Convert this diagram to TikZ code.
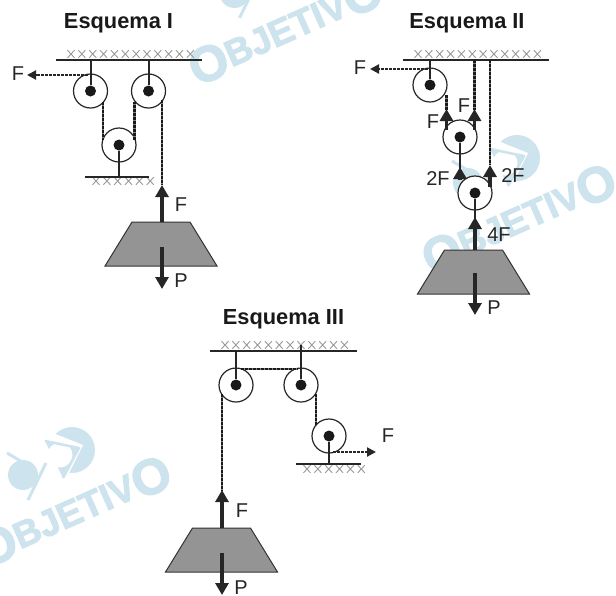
\documentclass[tikz,border=0pt]{standalone}
\usepackage{fontspec}
\setmainfont{Liberation Sans}
\newfontfamily\markfont{Liberation Sans}[BoldFeatures={FakeBold=2.5}]
\usetikzlibrary{arrows.meta}
\definecolor{markblue}{RGB}{205,227,237}
\tikzset{
    title/.style={font=\bfseries\fontsize{21.8}{24}\selectfont,text=black!90,inner sep=0pt},
    lab/.style={font=\fontsize{20}{24}\selectfont,text=black!85,inner sep=0pt},
    stamp/.style={font=\markfont\bfseries\fontsize{37}{38}\selectfont,text=markblue,rotate=24,inner sep=0pt},
    pulley/.style={circle,draw=black!85,fill=white,line width=1.2pt,minimum size=34pt,inner sep=0pt},
    axle/.style={circle,fill=black!90,minimum size=11pt,inner sep=0pt},
    support/.style={draw=black!85,line width=2pt},
    rod/.style={draw=black!85,line width=2pt},
    rope/.style={draw=black!50,line width=2.2pt,postaction={draw=black!90,line width=2.2pt,dash pattern=on 3pt off 1pt}},
    block/.style={draw=black!80,fill=black!42,line width=1pt},
    force/.style={line width=3.4pt,black!85,-{Triangle[length=12pt,width=13pt]}},
    pull/.style={line width=2pt,black!85,dash pattern=on 3pt off 1pt,-{Triangle[length=9pt,width=9pt]}}
}
\newcommand{\hatchrow}[3]{%
    \foreach \k in {1,...,#3}{
        \draw[black!40,line width=0.9pt] ({#1+(\k-1)*10.85-3.5},#2-3.8)--++(7,7.6) ({#1+(\k-1)*10.85-3.5},#2+3.8)--++(7,-7.6);
    }
}
\newcommand{\massblock}[3]{%
    \draw[block] (#2-29,#3)--(#2+29,#3)--(#2+56,#3+44)--(#2-56,#3+44)--cycle;
    \coordinate (#1) at (#2,#3);
}
\newcommand{\bigO}{\raisebox{-4pt}{\fontsize{50}{50}\selectfont O}}
\newcommand{\stampmark}[2]{%
    \begin{scope}[shift={(#1,#2)}]
        \fill[markblue] (72,450) circle (23);
        \fill[white] (53,433)--(83,445)--(68,475)--(40,485)--(35,430)--cycle;
        \fill[markblue] (45,441)--(79,448)--(63,478)--cycle;
        \fill[white] (60,455) circle (12.5);
        \draw[markblue,line width=2.5pt,line join=round] (45,441)--(79,448)--(63,478);
        \fill[markblue] (23,475) circle (15);
        \draw[markblue,line width=3pt] (7,453)--(36,470);
        \draw[markblue,line width=3pt] (46,463)--(28,500);
        \node[stamp] (word) at (74,511) {\bigO BJETIV\bigO};
    \end{scope}
}
\begin{document}
\begin{tikzpicture}[x=1pt,y=-1pt]
    \useasboundingbox (0,0) rectangle (616,595);
    \stampmark{0}{0}
    \stampmark{211.5}{-482}
    \stampmark{445}{-292}

    % Esquema I
    \node[title] (titleA) at (118.5,23) {Esquema I};
    \hatchrow{71}{54}{12}
    \hatchrow{96}{181}{6}
    \draw[support] (56,60)--(202,60);
    \draw[support] (85,176.5)--(149,176.5);
    \node[pulley] (pA1) at (90.5,91) {};
    \node[pulley] (pA2) at (148.5,91) {};
    \node[pulley] (pA3) at (119,145) {};
    \node[axle] (aA1) at (pA1) {};
    \node[axle] (aA2) at (pA2) {};
    \node[axle] (aA3) at (pA3) {};
    \coordinate (cA1) at (90.5,60);
    \coordinate (cA2) at (148.5,60);
    \coordinate (cA3) at (119,176.5);
    \draw[rod] (cA1)--(aA1);
    \draw[rod] (cA2)--(aA2);
    \draw[rod] (cA3)--(aA3);
    \massblock{mA}{161}{222}
    \coordinate (tA) at (162,185);
    \draw[rope] (103,102)--(103,140);
    \draw[rope] (134.5,140)--(134.5,102);
    \draw[rope] (162,100)--(tA);
    \draw[force] (162,222)--(tA);
    \coordinate (fA) at (27,75);
    \draw[pull] (88,75)--(fA);
    \coordinate (wA) at (162,247);
    \coordinate (dA) at (162,289);
    \draw[force] (wA)--(dA);
    \node[lab] (lA1) at (18,74) {F};
    \node[lab] (lA2) at (181,205) {F};
    \node[lab] (lA3) at (181,281) {P};

    % Esquema II
    \node[title] (titleB) at (467,23) {Esquema II};
    \hatchrow{418}{54}{12}
    \draw[support] (403,60)--(549,60);
    \node[pulley] (pB1) at (430,85) {};
    \node[pulley] (pB2) at (460,137) {};
    \node[pulley] (pB3) at (475,193) {};
    \node[axle] (aB1) at (pB1) {};
    \node[axle] (aB2) at (pB2) {};
    \node[axle] (aB3) at (pB3) {};
    \coordinate (cB1) at (430,60);
    \draw[rod] (cB1)--(aB1);
    \draw[rope] (446.5,95)--(446.5,110);
    \draw[rope] (474.5,60)--(474.5,110);
    \draw[rope] (490,60)--(490,165);
    \draw[force] (446.5,130)--(446.5,109);
    \draw[force] (474.5,130)--(474.5,109);
    \draw[force] (490,187)--(490,165);
    \draw[force] (460,180)--(460,167);
    \draw[rod,line width=2.6pt] (aB2)--(460,175);
    \massblock{mB}{473.5}{250}
    \draw[force] (475,250)--(475,217);
    \draw[rod,line width=2.6pt] (aB3)--(475,225);
    \coordinate (fB) at (370,69);
    \draw[pull] (428,69)--(fB);
    \draw[force] (475,273)--(475,315);
    \node[lab] (lB1) at (360,68) {F};
    \node[lab] (lB2) at (464,106) {F};
    \node[lab] (lB3) at (433,122) {F};
    \node[lab] (lB4) at (438,179) {2F};
    \node[lab] (lB5) at (513,176) {2F};
    \node[lab] (lB6) at (499,235) {4F};
    \node[lab] (lB7) at (494,308) {P};

    % Esquema III
    \node[title] (titleC) at (283.5,319) {Esquema III};
    \hatchrow{225}{345}{12}
    \hatchrow{307}{469}{6}
    \draw[support] (210,351)--(357,351);
    \draw[support] (296,464)--(361,464);
    \node[pulley] (pC1) at (236,385) {};
    \node[pulley] (pC2) at (301,385) {};
    \node[pulley] (pC3) at (329,436) {};
    \node[axle] (aC1) at (pC1) {};
    \node[axle] (aC2) at (pC2) {};
    \node[axle] (aC3) at (pC3) {};
    \coordinate (cC1) at (236,351);
    \coordinate (cC2) at (301,345);
    \coordinate (cC3) at (329,464);
    \draw[rod] (cC1)--(aC1);
    \draw[rod] (cC2)--(aC2);
    \draw[rod] (cC3)--(aC3);
    \draw[rope] (241,369)--(298,369);
    \draw[rope] (222,394)--(222,491);
    \draw[rope] (316,394)--(316,425);
    \massblock{mC}{221.5}{528}
    \coordinate (tC) at (222,490);
    \draw[force] (222,528)--(tC);
    \coordinate (fC) at (376,452);
    \draw[pull] (333,452)--(fC);
    \draw[force] (222,553)--(222,595);
    \node[lab] (lC1) at (242,511) {F};
    \node[lab] (lC2) at (388,436) {F};
    \node[lab] (lC3) at (241,588) {P};
\end{tikzpicture}
\end{document}
